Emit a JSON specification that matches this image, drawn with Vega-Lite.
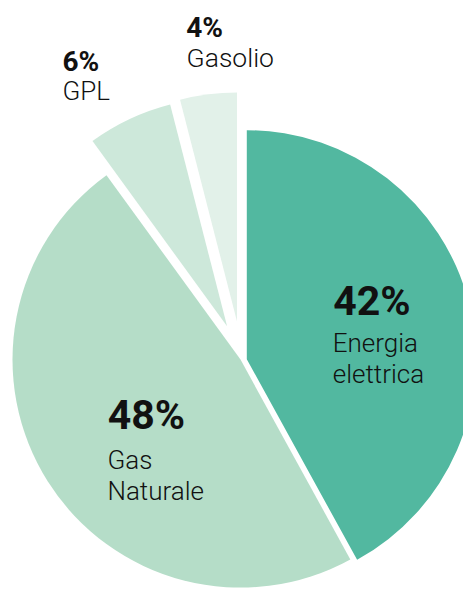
{
  "$schema": "https://vega.github.io/schema/vega-lite/v6.json",
  "width": 463,
  "height": 589,
  "autosize": {"type": "none"},
  "padding": 0,
  "background": "white",
  "config": {"view": {"stroke": null}, "text": {"font": "Roboto", "color": "#111111"}},
  "data": {
    "values": [
      {"fuel": "Energia elettrica", "value": 42, "order": 1, "pct": "42%", "name": "Energia\nelettrica"},
      {"fuel": "Gas Naturale", "value": 48, "order": 2, "pct": "48%", "name": "Gas\nNaturale"},
      {"fuel": "GPL", "value": 6, "order": 3, "pct": "6%", "name": "GPL"},
      {"fuel": "Gasolio", "value": 4, "order": 4, "pct": "4%", "name": "Gasolio"}
    ]
  },
  "transform": [
    {"stack": "value", "groupby": [], "sort": [{"field": "order", "order": "ascending"}], "as": ["v0", "v1"]}
  ],
  "encoding": {
    "color": {
      "field": "fuel",
      "type": "nominal",
      "legend": null,
      "scale": {
        "domain": ["Energia elettrica", "Gas Naturale", "GPL", "Gasolio"],
        "range": ["#52b8a0", "#b5ddc8", "#cde8da", "#e2f1e9"]
      }
    }
  },
  "layer": [
    {
      "transform": [{"filter": "datum.fuel === 'Energia elettrica'"}],
      "mark": {"type": "arc", "radius": 229, "xOffset": 15.3, "yOffset": 64.7},
      "encoding": {
        "theta": {"field": "v0", "type": "quantitative", "scale": {"domain": [0, 100]}},
        "theta2": {"field": "v1"}
      }
    },
    {
      "transform": [{"filter": "datum.fuel === 'Gas Naturale'"}],
      "mark": {"type": "arc", "radius": 228, "xOffset": 9.0, "yOffset": 65.1},
      "encoding": {
        "theta": {"field": "v0", "type": "quantitative", "scale": {"domain": [0, 100]}},
        "theta2": {"field": "v1"}
      }
    },
    {
      "transform": [{"filter": "datum.fuel === 'GPL'"}],
      "mark": {"type": "arc", "radius": 229, "xOffset": -4.4, "yOffset": 31.8},
      "encoding": {
        "theta": {"field": "v0", "type": "quantitative", "scale": {"domain": [0, 100]}},
        "theta2": {"field": "v1"}
      }
    },
    {
      "transform": [{"filter": "datum.fuel === 'Gasolio'"}],
      "mark": {"type": "arc", "radius": 229, "xOffset": 5.5, "yOffset": 27.0},
      "encoding": {
        "theta": {"field": "v0", "type": "quantitative", "scale": {"domain": [0, 100]}},
        "theta2": {"field": "v1"}
      }
    },
    {
      "mark": {"type": "text", "radius": 100, "align": "left", "baseline": "alphabetic", "fontSize": 41, "fontWeight": "bold", "dx": 4.9, "dy": 45.4},
      "encoding": {
        "color": {"value": "#111111"},
        "theta": {"field": "value", "type": "quantitative", "stack": true, "scale": {"domain": [0, 100]}},
        "order": {"field": "order"},
        "detail": {"field": "fuel"},
        "text": {"condition": {"test": "datum.fuel === 'Energia elettrica'", "field": "pct"}, "value": ""}
      }
    },
    {
      "mark": {"type": "text", "radius": 100, "align": "left", "baseline": "alphabetic", "fontSize": 26, "fontWeight": 300, "lineBreak": "\n", "lineHeight": 31.5, "dx": 4.4, "dy": 82.1},
      "encoding": {
        "color": {"value": "#111111"},
        "theta": {"field": "value", "type": "quantitative", "stack": true, "scale": {"domain": [0, 100]}},
        "order": {"field": "order"},
        "detail": {"field": "fuel"},
        "text": {"condition": {"test": "datum.fuel === 'Energia elettrica'", "field": "name"}, "value": ""}
      }
    },
    {
      "mark": {"type": "text", "radius": 150, "align": "left", "baseline": "alphabetic", "fontSize": 41, "fontWeight": "bold", "dx": 2.8, "dy": 54.1},
      "encoding": {
        "color": {"value": "#111111"},
        "theta": {"field": "value", "type": "quantitative", "stack": true, "scale": {"domain": [0, 100]}},
        "order": {"field": "order"},
        "detail": {"field": "fuel"},
        "text": {"condition": {"test": "datum.fuel === 'Gas Naturale'", "field": "pct"}, "value": ""}
      }
    },
    {
      "mark": {"type": "text", "radius": 150, "align": "left", "baseline": "alphabetic", "fontSize": 26, "fontWeight": 300, "lineBreak": "\n", "lineHeight": 30.5, "dx": 2.6, "dy": 94.4},
      "encoding": {
        "color": {"value": "#111111"},
        "theta": {"field": "value", "type": "quantitative", "stack": true, "scale": {"domain": [0, 100]}},
        "order": {"field": "order"},
        "detail": {"field": "fuel"},
        "text": {"condition": {"test": "datum.fuel === 'Gas Naturale'", "field": "name"}, "value": ""}
      }
    },
    {
      "mark": {"type": "text", "radius": 320, "align": "left", "baseline": "alphabetic", "fontSize": 28, "fontWeight": "bold", "dx": -32.8, "dy": 66.2},
      "encoding": {
        "color": {"value": "#111111"},
        "theta": {"field": "value", "type": "quantitative", "stack": true, "scale": {"domain": [0, 100]}},
        "order": {"field": "order"},
        "detail": {"field": "fuel"},
        "text": {"condition": {"test": "datum.fuel === 'GPL'", "field": "pct"}, "value": ""}
      }
    },
    {
      "mark": {"type": "text", "radius": 320, "align": "left", "baseline": "alphabetic", "fontSize": 26, "fontWeight": 300, "dx": -32.8, "dy": 95.5},
      "encoding": {
        "color": {"value": "#111111"},
        "theta": {"field": "value", "type": "quantitative", "stack": true, "scale": {"domain": [0, 100]}},
        "order": {"field": "order"},
        "detail": {"field": "fuel"},
        "text": {"condition": {"test": "datum.fuel === 'GPL'", "field": "name"}, "value": ""}
      }
    },
    {
      "mark": {"type": "text", "radius": 320, "align": "left", "baseline": "alphabetic", "fontSize": 28, "fontWeight": "bold", "dx": -5.2, "dy": 60.0},
      "encoding": {
        "color": {"value": "#111111"},
        "theta": {"field": "value", "type": "quantitative", "stack": true, "scale": {"domain": [0, 100]}},
        "order": {"field": "order"},
        "detail": {"field": "fuel"},
        "text": {"condition": {"test": "datum.fuel === 'Gasolio'", "field": "pct"}, "value": ""}
      }
    },
    {
      "mark": {"type": "text", "radius": 320, "align": "left", "baseline": "alphabetic", "fontSize": 26.5, "fontWeight": 300, "dx": -4.8, "dy": 90.2},
      "encoding": {
        "color": {"value": "#111111"},
        "theta": {"field": "value", "type": "quantitative", "stack": true, "scale": {"domain": [0, 100]}},
        "order": {"field": "order"},
        "detail": {"field": "fuel"},
        "text": {"condition": {"test": "datum.fuel === 'Gasolio'", "field": "name"}, "value": ""}
      }
    }
  ]
}
